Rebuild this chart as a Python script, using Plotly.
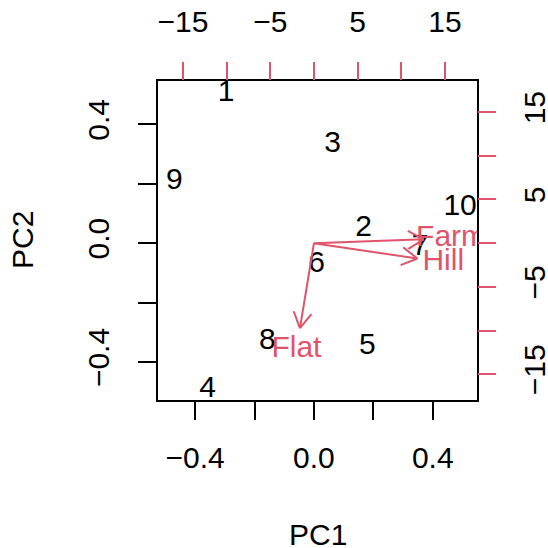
import numpy as np
import plotly.graph_objects as go

# Observation scores on the first two principal components
obs_labels = ["1", "2", "3", "4", "5", "6", "7", "8", "9", "10"]
pc1 = [-0.296, 0.167, 0.063, -0.358, 0.180, 0.009, 0.357, -0.157, -0.470, 0.492]
pc2 = [0.504, 0.048, 0.331, -0.494, -0.348, -0.073, -0.016, -0.330, 0.208, 0.121]

# Variable loadings (in the units of the top/right axes)
var_labels = ["Farm", "Hill", "Flat"]
load1 = [15.7, 14.8, -2.0]
load2 = [0.55, -2.2, -12.15]

# Axis ticks
x_ticks = [-0.4, -0.2, 0.0, 0.2, 0.4]
x_ticktext = ["\u22120.4", "", "0.0", "", "0.4"]
y_ticks = [-0.4, -0.2, 0.0, 0.2, 0.4]
y_ticktext = ["\u22120.4", "", "0.0", "", "0.4"]
sec_ticks = [-15, -10, -5, 0, 5, 10, 15]
sec_ticktext = ["\u221215", "", "\u22125", "", "5", "", "15"]

RED = "#DF536B"
FONT = "Liberation Sans, Arial, sans-serif"
FS = 30

xlim = [-0.525, 0.549]
ylim = [-0.528, 0.546]
ratio = 34.0          # secondary-axis units per primary unit
px_per_unit = 297.0   # plot pixels per primary unit

fig = go.Figure()

# observation labels
fig.add_trace(go.Scatter(
    x=pc1, y=pc2, mode="text", text=obs_labels,
    textfont=dict(family=FONT, size=FS, color="black"),
    textposition="middle center", cliponaxis=True, hoverinfo="skip",
    showlegend=False))

# loading arrows (shaft + open head), drawn at 0.8 of the loading
head_len = 18.0 / px_per_unit
ang = np.deg2rad(30)
ax_x, ax_y = [], []
for a, b in zip(load1, load2):
    tx, ty = 0.8 * a / ratio, 0.8 * b / ratio
    ax_x += [0, tx, None]
    ax_y += [0, ty, None]
    th = np.arctan2(-ty, -tx)
    for s in (ang, -ang):
        ax_x += [tx + head_len * np.cos(th + s), tx, None]
        ax_y += [ty + head_len * np.sin(th + s), ty, None]
fig.add_trace(go.Scatter(
    x=ax_x, y=ax_y, mode="lines", line=dict(color=RED, width=2),
    hoverinfo="skip", showlegend=False, cliponaxis=True))

# variable labels
fig.add_trace(go.Scatter(
    x=[a / ratio for a in load1], y=[b / ratio for b in load2],
    mode="text", text=var_labels,
    textfont=dict(family=FONT, size=FS, color=RED),
    textposition="middle center", cliponaxis=True, hoverinfo="skip",
    showlegend=False))

# invisible trace tying the secondary axes to the figure
fig.add_trace(go.Scatter(x=[0], y=[0], xaxis="x2", yaxis="y2",
                         mode="markers", marker=dict(opacity=0),
                         hoverinfo="skip", showlegend=False))

tickfont = dict(family=FONT, size=FS, color="black")
common = dict(showgrid=False, zeroline=False, ticks="outside", ticklen=18,
              tickwidth=2, tickfont=tickfont, automargin=False)

fig.update_layout(
    width=548, height=548, autosize=False,
    margin=dict(l=158, r=71, t=81, b=148, pad=0),
    paper_bgcolor="white", plot_bgcolor="white",
    font=dict(family=FONT, size=FS, color="black"),
    xaxis=dict(range=xlim, tickmode="array", tickvals=x_ticks,
               ticktext=x_ticktext, showline=True, linecolor="black",
               linewidth=2, mirror=True, tickcolor="black",
               ticklabelstandoff=12, **common),
    yaxis=dict(range=ylim, tickmode="array", tickvals=y_ticks,
               ticktext=y_ticktext, showline=True, linecolor="black",
               linewidth=2, mirror=True, tickcolor="black", tickangle=-90,
               ticklabelstandoff=17, **common),
    xaxis2=dict(range=[v * ratio for v in xlim], overlaying="x", side="top",
                anchor="y", tickmode="array", tickvals=sec_ticks,
                ticktext=sec_ticktext, showline=False, tickcolor=RED,
                ticklabelstandoff=18, **common),
    yaxis2=dict(range=[v * ratio for v in ylim], overlaying="y", side="right",
                anchor="x", tickmode="array", tickvals=sec_ticks,
                ticktext=sec_ticktext, showline=False, tickcolor=RED,
                tickangle=-90, ticklabelstandoff=13, **common),
    annotations=[
        dict(text="PC1", x=0.5, y=(400 - 534) / 319, xref="paper",
             yref="paper", showarrow=False, xanchor="center",
             yanchor="middle", font=dict(family=FONT, size=FS)),
        dict(text="PC2", x=(22.5 - 158) / 319, y=0.5, xref="paper",
             yref="paper", showarrow=False, xanchor="center",
             yanchor="middle", textangle=-90, font=dict(family=FONT, size=FS)),
    ],
)

fig.write_html("out.html")
